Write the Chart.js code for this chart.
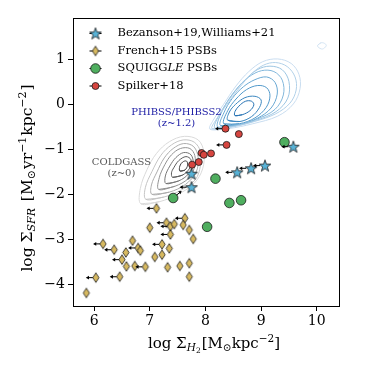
<!DOCTYPE html>
<html><head><meta charset="utf-8">
<script src="https://cdn.jsdelivr.net/npm/chart.js@4.4.1/dist/chart.umd.min.js"></script>
<style>html,body{margin:0;padding:0;background:#fff;}#wrap{width:374px;height:374px;}</style>
</head><body><div id="wrap"><canvas id="c" width="374" height="374"></canvas></div>
<script>
// ---------------- data ----------------
const xTicks = [6, 7, 8, 9, 10];
const yTicks = [-4, -3, -2, -1, 0, 1];

const seriesNames = ['Bezanson+19,Williams+21', 'French+15 PSBs', 'SQUIGGLE PSBs', 'Spilker+18'];

const bezansonX  = [7.75, 7.75, 8.57, 8.82, 9.07, 9.58];
const bezansonY  = [-1.53, -1.83, -1.50, -1.41, -1.35, -0.93];
const bezansonUL = [0, 1, 1, 1, 1, 1];

const frenchX  = [7.12, 7.00, 7.30, 7.37, 7.44, 7.63, 7.60, 7.71, 7.78, 7.37, 7.22, 7.35, 7.22, 7.09, 7.32, 7.54,
                  7.71, 7.71, 6.69, 6.79, 6.83, 6.57, 6.36, 6.16, 6.50, 6.58, 6.73, 6.92, 6.46, 6.03, 5.86];
const frenchY  = [-2.30, -2.73, -2.62, -2.70, -2.65, -2.52, -2.67, -2.78, -2.98, -2.88, -3.10, -3.19, -3.33, -3.38, -3.61, -3.58,
                  -3.52, -3.82, -3.02, -3.18, -3.24, -3.28, -3.22, -3.09, -3.44, -3.59, -3.58, -3.60, -3.82, -3.84, -4.18];
const frenchUL = [1, 0, 1, 1, 0, 1, 0, 0, 0, 1, 1, 0, 0, 0, 0, 0,
                  0, 0, 0, 1, 0, 0, 1, 1, 1, 0, 0, 1, 1, 1, 0];

const squiggleX   = [9.42, 8.18, 7.42, 8.43, 8.64, 8.03];
const squiggleY   = [-0.83, -1.64, -2.07, -2.18, -2.12, -2.71];
const squiggleArr = ['', '', 'ne', '', '', ''];

const spilkerX  = [8.36, 8.60, 8.38, 7.93, 7.97, 8.10, 7.88, 7.76];
const spilkerY  = [-0.53, -0.65, -0.89, -1.07, -1.11, -1.08, -1.27, -1.33];
const spilkerUL = [1, 0, 1, 0, 0, 0, 0, 0];

// KDE contour loops (outer -> inner), [x, y] pairs
const phibssContours = [
  [[8.08,-0.54],[8.40,-0.53],[8.85,-0.42],[9.30,-0.25],[9.58,0.02],[9.70,0.36],[9.68,0.68],[9.54,0.92],[9.30,1.02],[9.03,0.96],[8.78,0.74],[8.55,0.42],[8.32,0.00],[8.14,-0.34]],
  [[8.12,-0.53],[8.45,-0.50],[8.88,-0.37],[9.26,-0.20],[9.52,0.04],[9.63,0.33],[9.61,0.62],[9.47,0.85],[9.26,0.94],[9.04,0.88],[8.82,0.68],[8.61,0.38],[8.38,0.00],[8.19,-0.33]],
  [[8.17,-0.52],[8.50,-0.48],[8.90,-0.35],[9.27,-0.15],[9.48,0.15],[9.50,0.52],[9.38,0.78],[9.16,0.86],[8.93,0.78],[8.70,0.54],[8.47,0.20],[8.24,-0.24]],
  [[8.22,-0.50],[8.55,-0.46],[8.92,-0.32],[9.25,-0.10],[9.40,0.22],[9.38,0.55],[9.23,0.74],[9.01,0.76],[8.78,0.62],[8.55,0.34],[8.32,-0.09]],
  [[8.27,-0.46],[8.60,-0.44],[8.93,-0.30],[9.18,-0.07],[9.29,0.24],[9.25,0.50],[9.10,0.62],[8.89,0.56],[8.68,0.40],[8.48,0.14],[8.33,-0.18]],
  [[8.33,-0.42],[8.61,-0.42],[8.89,-0.29],[9.09,-0.06],[9.16,0.20],[9.10,0.38],[8.94,0.43],[8.74,0.34],[8.55,0.13],[8.40,-0.13]],
  [[8.40,-0.34],[8.62,-0.37],[8.83,-0.26],[8.97,-0.06],[9.00,0.11],[8.89,0.19],[8.71,0.16],[8.54,0.01],[8.43,-0.16]],
  [[8.53,-0.24],[8.66,-0.22],[8.80,-0.13],[8.87,0.00],[8.83,0.08],[8.72,0.08],[8.60,-0.03],[8.53,-0.15]],
  [[10.02,1.33],[10.08,1.38],[10.15,1.36],[10.17,1.31],[10.10,1.24],[10.02,1.29]]
];
const coldgassContours = [
  [[6.84,-2.20],[7.18,-2.15],[7.52,-1.98],[7.80,-1.74],[7.95,-1.42],[7.97,-1.04],[7.87,-0.78],[7.62,-0.70],[7.35,-0.82],[7.12,-1.08],[6.95,-1.44],[6.83,-1.86]],
  [[6.93,-2.10],[7.25,-2.05],[7.57,-1.89],[7.82,-1.66],[7.91,-1.35],[7.91,-1.04],[7.80,-0.83],[7.60,-0.78],[7.39,-0.89],[7.20,-1.12],[7.04,-1.48],[6.92,-1.84]],
  [[7.04,-1.99],[7.35,-1.94],[7.64,-1.77],[7.83,-1.50],[7.87,-1.18],[7.79,-0.93],[7.61,-0.86],[7.42,-0.97],[7.26,-1.18],[7.13,-1.49],[7.03,-1.78]],
  [[7.16,-1.88],[7.45,-1.81],[7.69,-1.64],[7.80,-1.40],[7.81,-1.13],[7.72,-0.97],[7.55,-0.97],[7.39,-1.11],[7.27,-1.33],[7.17,-1.62]],
  [[7.29,-1.75],[7.52,-1.69],[7.70,-1.53],[7.78,-1.31],[7.74,-1.11],[7.61,-1.06],[7.47,-1.17],[7.36,-1.36],[7.28,-1.58]],
  [[7.41,-1.61],[7.59,-1.56],[7.72,-1.40],[7.74,-1.22],[7.65,-1.15],[7.52,-1.24],[7.43,-1.40],[7.39,-1.51]],
  [[7.54,-1.47],[7.63,-1.45],[7.68,-1.34],[7.66,-1.25],[7.59,-1.27],[7.54,-1.36]]
];

// ---------------- styles ----------------
const FONT = '"DejaVu Serif", "Liberation Serif", serif';
const blueShades = ['#c9ddf0','#b2d1e9','#9cc5e2','#82b7db','#69a8d3','#5299ca','#3a86bf','#2672b3','#d4e4f3'];
const greyShades = ['#dadada','#c4c4c4','#acacac','#919191','#767676','#5b5b5b','#404040'];
const C_STAR = '#58b3d7', C_DIAM = '#d7b960', C_GREEN = '#4fae5f', C_RED = '#d6453f', C_EDGE = '#1b1b1b';

function starImg(R, fill) {
  const S = Math.ceil(2 * R + 3), c = document.createElement('canvas');
  c.width = c.height = S;
  const g = c.getContext('2d');
  g.translate(S / 2, S / 2 + 0.5);
  g.beginPath();
  for (let i = 0; i < 10; i++) {
    const r = i % 2 ? R * 0.4 : R, a = -Math.PI / 2 + i * Math.PI / 5;
    g.lineTo(r * Math.cos(a), r * Math.sin(a));
  }
  g.closePath(); g.fillStyle = fill; g.fill();
  g.lineWidth = 0.8; g.strokeStyle = C_EDGE; g.stroke();
  return c;
}
function diamondImg(w, h, fill) {
  const c = document.createElement('canvas');
  c.width = Math.ceil(w + 3); c.height = Math.ceil(h + 3);
  const g = c.getContext('2d');
  g.translate(c.width / 2, c.height / 2);
  g.beginPath(); g.moveTo(0, -h / 2); g.lineTo(w / 2, 0); g.lineTo(0, h / 2); g.lineTo(-w / 2, 0); g.closePath();
  g.fillStyle = fill; g.fill(); g.lineWidth = 0.8; g.strokeStyle = C_EDGE; g.stroke();
  return c;
}
const STAR = starImg(6.2, C_STAR);
const DIAM = diamondImg(6.2, 9.6, C_DIAM);

const pts = (xs, ys) => xs.map((x, i) => ({ x: x, y: ys[i] }));
const loop = a => a.concat([a[0], a[1]]).map(p => ({ x: p[0], y: p[1] }));

const datasets = [];
phibssContours.forEach((c, i) => datasets.push({
  data: loop(c), showLine: true, borderColor: blueShades[i], borderWidth: 1, pointRadius: 0,
  tension: 0.35, fill: false, order: 10
}));
coldgassContours.forEach((c, i) => datasets.push({
  data: loop(c), showLine: true, borderColor: greyShades[i], borderWidth: 1, pointRadius: 0,
  tension: 0.35, fill: false, order: 10
}));
const iStar = datasets.length;
datasets.push({ data: pts(bezansonX, bezansonY), pointStyle: STAR, pointRadius: 6, order: 4 });
const iDiam = datasets.length;
datasets.push({ data: pts(frenchX, frenchY), pointStyle: DIAM, pointRadius: 4, order: 3 });
const iGreen = datasets.length;
datasets.push({ data: pts(squiggleX, squiggleY), pointStyle: 'circle', pointRadius: 4.8,
  backgroundColor: C_GREEN, borderColor: C_EDGE, borderWidth: 0.8, order: 2 });
const iRed = datasets.length;
datasets.push({ data: pts(spilkerX, spilkerY), pointStyle: 'circle', pointRadius: 3.5,
  backgroundColor: C_RED, borderColor: C_EDGE, borderWidth: 0.8, order: 1 });

// ---------------- plugins ----------------
function arrowLeft(ctx, x, y, len) {
  ctx.beginPath(); ctx.moveTo(x, y); ctx.lineTo(x - len + 2, y); ctx.stroke();
  ctx.beginPath(); ctx.moveTo(x - len, y); ctx.lineTo(x - len + 3.2, y - 1.9); ctx.lineTo(x - len + 3.2, y + 1.9); ctx.closePath(); ctx.fill();
}
const arrowPlugin = {
  id: 'arrows',
  afterDatasetsDraw(chart) {
    const ctx = chart.ctx;
    ctx.save(); ctx.strokeStyle = '#000'; ctx.fillStyle = '#000'; ctx.lineWidth = 1;
    const sets = [[iStar, bezansonUL, 5], [iDiam, frenchUL, 3], [iRed, spilkerUL, 3.5]];
    sets.forEach(([di, flags, r]) => {
      const meta = chart.getDatasetMeta(di);
      meta.data.forEach((el, k) => { if (flags[k]) arrowLeft(ctx, el.x - r, el.y, 7); });
    });
    const gm = chart.getDatasetMeta(iGreen);
    gm.data.forEach((el, k) => {
      if (squiggleArr[k] === 'ne') {
        const x0 = el.x + 3.5, y0 = el.y - 3, x1 = el.x + 8.5, y1 = el.y - 7;
        ctx.beginPath(); ctx.moveTo(x0, y0); ctx.lineTo(x1 - 1.5, y1 + 1.2); ctx.stroke();
        ctx.beginPath(); ctx.moveTo(x1, y1); ctx.lineTo(x1 - 3.4, y1 + 0.3); ctx.lineTo(x1 - 1.2, y1 + 3.2); ctx.closePath(); ctx.fill();
      }
    });
    ctx.restore();
  }
};

const annotations = [
  { lines: ['PHIBSS/PHIBSS2', '(z~1.2)'], x: 7.48, y: -0.16, dy: -0.245, color: '#2020a6' },
  { lines: ['COLDGASS', '(z~0)'], x: 6.49, y: -1.27, dy: -0.245, color: '#585858' }
];
const annotPlugin = {
  id: 'annot',
  afterDatasetsDraw(chart) {
    const ctx = chart.ctx, xs = chart.scales.x, ys = chart.scales.y;
    ctx.save(); ctx.font = '10px ' + FONT; ctx.textAlign = 'center'; ctx.textBaseline = 'middle';
    annotations.forEach(a => {
      ctx.fillStyle = a.color;
      a.lines.forEach((t, i) => ctx.fillText(t, xs.getPixelForValue(a.x), ys.getPixelForValue(a.y + i * a.dy)));
    });
    ctx.restore();
  }
};

function fontOf(s) { return (s.it ? 'italic ' : '') + s.s + 'px ' + FONT; }
function drawRich(ctx, segs, x, y, ang) {
  ctx.save(); ctx.translate(x, y); ctx.rotate(ang);
  let total = 0;
  const ws = segs.map(s => { ctx.font = fontOf(s); const w = ctx.measureText(s.t).width + (s.gap || 0); total += w; return w; });
  let cx = -total / 2; ctx.fillStyle = '#000'; ctx.textBaseline = 'alphabetic'; ctx.textAlign = 'left';
  segs.forEach((s, i) => { ctx.font = fontOf(s); ctx.fillText(s.t, cx, s.dy || 0); cx += ws[i]; });
  ctx.restore();
}
const xTitle = [{t:'log Σ',s:15},{t:'H',s:10.5,it:true,dy:3},{t:'2',s:7.5,dy:5,gap:1},{t:'[M',s:15},{t:'⊙',s:10.5,dy:3},
                {t:'kpc',s:15},{t:'−2',s:10.5,dy:-6.5},{t:']',s:15}];
const yTitle = [{t:'log Σ',s:15.5},{t:'SFR',s:11,it:true,dy:3,gap:2},{t:' [M',s:15.5},{t:'⊙',s:11,dy:3,gap:1},{t:'yr',s:15.5},
                {t:'−1',s:11,dy:-6.5,gap:1},{t:'kpc',s:15.5},{t:'−2',s:11,dy:-6.5,gap:1},{t:']',s:15.5}];

const framePlugin = {
  id: 'frame',
  afterDraw(chart) {
    const ctx = chart.ctx, a = chart.chartArea;
    ctx.save(); ctx.strokeStyle = '#000'; ctx.lineWidth = 1;
    ctx.strokeRect(Math.round(a.left) + 0.5, Math.round(a.top) + 0.5, Math.round(a.right - a.left), Math.round(a.bottom - a.top));
    ctx.restore();
    drawRich(ctx, xTitle, (a.left + a.right) / 2 + 8, 348, 0);
    drawRich(ctx, yTitle, 32, (a.top + a.bottom) / 2 + 16, -Math.PI / 2);
  }
};

const legendPlugin = {
  id: 'legendIn',
  afterDraw(chart) {
    const ctx = chart.ctx, a = chart.chartArea;
    const x0 = a.left + 22.5, y0 = a.top + 15.5, dy = 17.5;
    ctx.save();
    for (let i = 0; i < 4; i++) {
      const y = y0 + i * dy;
      ctx.strokeStyle = '#000'; ctx.lineWidth = 1;
      ctx.beginPath(); ctx.moveTo(x0 - 6, y); ctx.lineTo(x0 + 6, y); ctx.stroke();
      if (i === 0) ctx.drawImage(STAR, x0 - STAR.width / 2, y - STAR.height / 2);
      if (i === 1) ctx.drawImage(DIAM, x0 - DIAM.width / 2, y - DIAM.height / 2);
      if (i >= 2) {
        ctx.beginPath(); ctx.arc(x0, y, i === 2 ? 4.8 : 3.5, 0, Math.PI * 2);
        ctx.fillStyle = i === 2 ? C_GREEN : C_RED; ctx.fill(); ctx.lineWidth = 0.8; ctx.strokeStyle = C_EDGE; ctx.stroke();
      }
      ctx.fillStyle = '#000'; ctx.textBaseline = 'middle'; ctx.textAlign = 'left';
      const tx = x0 + 22;
      if (i === 2) {
        const parts = [['SQUIGG', false], ['LE', true], [' PSBs', false]];
        let cx = tx;
        parts.forEach(([t, it]) => { ctx.font = (it ? 'italic ' : '') + '11.5px ' + FONT; ctx.fillText(t, cx, y); cx += ctx.measureText(t).width; });
      } else {
        ctx.font = '11.5px ' + FONT; ctx.fillText(seriesNames[i], tx, y);
      }
    }
    ctx.restore();
  }
};

const tickFmt = v => (v < 0 ? '\u2212' + Math.abs(v) : String(v));
new Chart(document.getElementById('c').getContext('2d'), {
  type: 'scatter',
  data: { datasets: datasets },
  options: {
    responsive: false, animation: false, devicePixelRatio: 1,
    layout: { padding: { left: 0, right: 35, top: 18, bottom: 0 } },
    plugins: { legend: { display: false }, tooltip: { enabled: false } },
    scales: {
      x: {
        type: 'linear', min: 5.62, max: 10.4,
        afterBuildTicks: s => { s.ticks = xTicks.map(v => ({ value: v })); },
        afterFit: s => { s.height = 68; },
        ticks: { font: { family: FONT, size: 14 }, color: '#000', padding: 2, maxRotation: 0, autoSkip: false, callback: tickFmt },
        grid: { drawOnChartArea: false, drawTicks: true, tickLength: 5, tickColor: '#000', tickWidth: 1 },
        border: { display: true, color: '#000', width: 1 }
      },
      y: {
        type: 'linear', min: -4.47, max: 1.93,
        afterBuildTicks: s => { s.ticks = yTicks.map(v => ({ value: v })); },
        afterFit: s => { s.width = 73; },
        ticks: { font: { family: FONT, size: 14 }, color: '#000', padding: 3, autoSkip: false, callback: tickFmt },
        grid: { drawOnChartArea: false, drawTicks: true, tickLength: 5, tickColor: '#000', tickWidth: 1 },
        border: { display: true, color: '#000', width: 1 }
      }
    }
  },
  plugins: [arrowPlugin, annotPlugin, framePlugin, legendPlugin]
});
</script></body></html>
